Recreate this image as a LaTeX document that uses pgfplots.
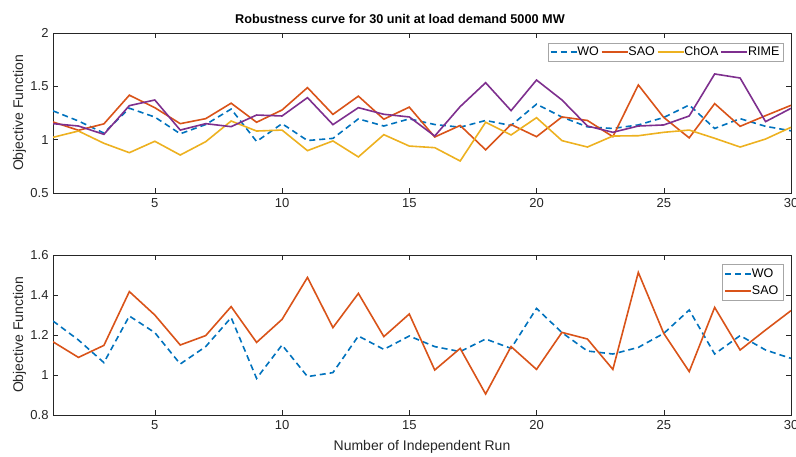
\documentclass[border=0pt]{standalone}
\usepackage{pgfplots}
\pgfplotsset{compat=1.18}
\usepackage{pgfplotstable}
\usepackage{fontspec}
\setmainfont{Liberation Sans}
\definecolor{cWO}{rgb}{0,0.447,0.741}
\definecolor{cSAO}{rgb}{0.85,0.325,0.098}
\definecolor{cChOA}{rgb}{0.929,0.694,0.125}
\definecolor{cRIME}{rgb}{0.494,0.184,0.556}
\definecolor{axgray}{rgb}{0.15,0.15,0.15}

\pgfplotstableread{
run WO SAO ChOA RIME
1 1.270 1.166 1.022 1.150
2 1.175 1.088 1.081 1.128
3 1.062 1.148 0.966 1.050
4 1.295 1.417 0.878 1.319
5 1.212 1.300 0.985 1.372
6 1.055 1.150 0.856 1.090
7 1.142 1.197 0.981 1.150
8 1.287 1.342 1.175 1.122
9 0.983 1.163 1.081 1.231
10 1.150 1.278 1.090 1.222
11 0.992 1.488 0.897 1.394
12 1.012 1.237 0.988 1.141
13 1.195 1.408 0.838 1.300
14 1.128 1.192 1.047 1.238
15 1.195 1.305 0.940 1.213
16 1.142 1.025 0.925 1.034
17 1.117 1.133 0.800 1.310
18 1.180 0.905 1.163 1.534
19 1.133 1.142 1.044 1.272
20 1.333 1.028 1.206 1.559
21 1.212 1.213 0.991 1.372
22 1.120 1.180 0.931 1.128
23 1.105 1.028 1.034 1.069
24 1.138 1.513 1.037 1.128
25 1.208 1.208 1.069 1.138
26 1.325 1.017 1.090 1.222
27 1.105 1.338 1.013 1.616
28 1.197 1.125 0.931 1.578
29 1.125 1.225 1.006 1.169
30 1.083 1.322 1.116 1.294
}\datatable

\pgfplotsset{
  mystyle/.style={
    scale only axis,
    width=738bp, height=160bp,
    xmin=1, xmax=30,
    xtick={5,10,15,20,25,30},
    tick align=inside,
    major tick length=5bp,
    axis line style={axgray, line width=0.5bp},
    every tick/.style={axgray, line width=0.5bp},
    tick label style={font=\fontsize{13bp}{15bp}\selectfont, text=axgray},
    label style={font=\fontsize{14bp}{16bp}\selectfont, text=axgray},
    /pgf/number format/assume math mode=true,
    xticklabel style={yshift=-2bp},
    yticklabel style={xshift=-1bp},
    ylabel style={at={(axis description cs:-0.0454,0.5)}, anchor=center},
    legend style={draw=gray!70, fill=white,
      font=\fontsize{12.5bp}{14bp}\selectfont, inner sep=1.5bp},
    legend cell align=left,
    legend image code/.code={\draw[#1] (0bp,0bp) -- (26bp,0bp);},
  },
  wo/.style={cWO, line width=1.6bp, dash pattern=on 6bp off 4bp},
  sao/.style={cSAO, line width=1.6bp},
  choa/.style={cChOA, line width=1.6bp},
  rime/.style={cRIME, line width=1.6bp},
}

\begin{document}
\begin{tikzpicture}
\begin{axis}[mystyle, at={(0,0)}, anchor=south west,
  ymin=0.5, ymax=2, ytick={0.5,1,1.5,2}, yticklabels={0.5,1,1.5,2},
  ylabel={Objective Function},
  legend columns=4,
  legend style={at={(rel axis cs:0.9892,0.9375)}, anchor=north east,
    /tikz/every odd column/.append style={column sep=-2bp}},
]
\addplot[wo] table[x=run,y=WO] {\datatable};
\addplot[sao] table[x=run,y=SAO] {\datatable};
\addplot[choa] table[x=run,y=ChOA] {\datatable};
\addplot[rime] table[x=run,y=RIME] {\datatable};
\legend{WO,SAO,ChOA,RIME}
\node[anchor=south west, inner sep=0pt, text=axgray, font=\fontsize{13bp}{15bp}\selectfont] at (rel axis cs:0,1) [yshift=2bp] {$\times$10\textsuperscript{9}};
\end{axis}
\node[font=\bfseries\fontsize{12.7bp}{15bp}\selectfont, text=black] at (347bp,174bp) {Robustness curve for 30 unit at load demand 5000 MW};

\begin{axis}[mystyle, at={(0,-222bp)}, anchor=south west,
  ymin=0.8, ymax=1.6, ytick={0.8,1,1.2,1.4,1.6}, yticklabels={0.8,1,1.2,1.4,1.6},
  ylabel={Objective Function},
  xlabel={Number of Independent Run},
  xlabel style={yshift=-4bp},
  legend style={at={(rel axis cs:0.9892,0.944)}, anchor=north east, inner sep=2.5bp,
    /tikz/every odd column/.append style={column sep=-2bp}, row sep=3bp},
]
\addplot[wo] table[x=run,y=WO] {\datatable};
\addplot[sao] table[x=run,y=SAO] {\datatable};
\legend{WO,SAO}
\node[anchor=south west, inner sep=0pt, text=axgray, font=\fontsize{13bp}{15bp}\selectfont] at (rel axis cs:0,1) [yshift=2bp] {$\times$10\textsuperscript{9}};
\end{axis}
\pgfresetboundingbox
\path[use as bounding box] (-53bp,-264bp) rectangle (743bp,193bp);
\end{tikzpicture}
\end{document}
